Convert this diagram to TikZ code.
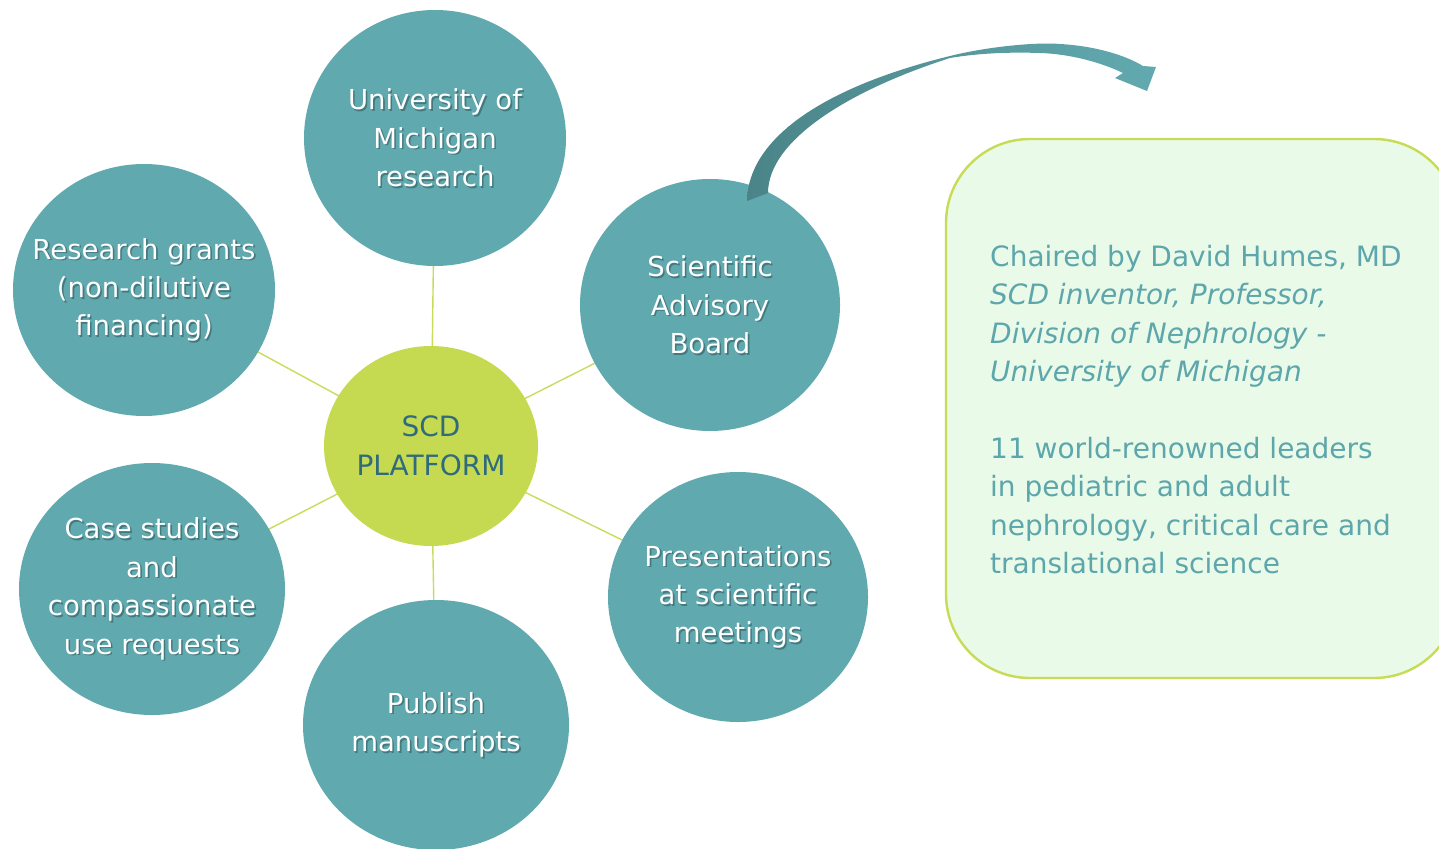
\documentclass[tikz,border=0pt]{standalone}
\usepackage{fontspec}
\setmainfont{DejaVu Sans}
\usetikzlibrary{shapes.geometric}

\definecolor{tealfill}{RGB}{95,169,175}
\definecolor{hubgreen}{RGB}{197,218,80}
\definecolor{hubtext}{RGB}{47,106,125}
\definecolor{spoke}{RGB}{200,220,90}
\definecolor{notefill}{RGB}{234,250,232}
\definecolor{noteline}{RGB}{198,219,86}
\definecolor{notetext}{RGB}{92,166,172}
\definecolor{arrowdark}{RGB}{74,132,136}
\definecolor{arrowlight}{RGB}{98,170,176}

\tikzset{
  bubble/.style={ellipse, fill=tealfill, draw=none, inner sep=0pt},
  bubbletxt/.style={text=white, align=center, font=\fontsize{27.5}{38.4}\selectfont},
  bubbleshadow/.style={text=black, opacity=0.28, align=center, font=\fontsize{27.5}{38.4}\selectfont},
  hub/.style={ellipse, fill=hubgreen, draw=none, inner sep=0pt, text=hubtext,
    align=center, font=\fontsize{28}{38.4}\selectfont},
  spokeline/.style={draw=spoke, line width=1.4pt},
  note/.style={fill=notefill, draw=noteline, line width=2.4pt, rounded corners=84pt}
}

% a teal bubble with shadowed white label
\newcommand\bubblenode[6]{%
  \node[bubble, minimum width=#3, minimum height=#4] (#1) at #2 {};
  \node[bubbleshadow] at ([shift={(1.6,1.6)}]#1.center) {#5};
  \node[bubbletxt] (#6) at (#1.center) {#5};
}

\begin{document}
\begin{tikzpicture}[x=1pt, y=-1pt]
  \useasboundingbox (0,0) rectangle (1439,848);
  \clip (0,0) rectangle (1439,848);

  % hub position, used by the spokes
  \coordinate (hubc) at (431,446);

  % spokes (drawn first, hidden under the bubbles)
  \coordinate (cu) at (435,138);
  \coordinate (cg) at (144,290);
  \coordinate (cs) at (710,305);
  \coordinate (cc) at (152,589);
  \coordinate (cp) at (436,725);
  \coordinate (cm) at (738,597);
  \foreach \c in {cu,cg,cs,cc,cp,cm}
    \draw[spokeline] (hubc) -- (\c);

  % outer bubbles
  \bubblenode{univ}{(cu)}{262pt}{256pt}{University of\\Michigan\\research}{univt}
  \bubblenode{grants}{(cg)}{262pt}{252pt}{Research grants\\(non-dilutive\\financing)}{grantst}
  \bubblenode{sab}{(cs)}{260pt}{252pt}{Scientific\\Advisory\\Board}{sabt}
  \bubblenode{cases}{(cc)}{266pt}{252pt}{Case studies\\and\\compassionate\\use requests}{casest}
  \bubblenode{pub}{(cp)}{266pt}{250pt}{Publish\\manuscripts}{pubt}
  \bubblenode{pres}{(cm)}{260pt}{250pt}{Presentations\\at scientific\\meetings}{prest}

  % hub
  \node[hub, minimum width=214pt, minimum height=200pt] (hub) at (hubc) {SCD\\PLATFORM};

  % note panel
  \draw[note] (946,139) rectangle (1458,678);
  \node[anchor=north west, align=left, text=notetext, inner sep=0pt,
        font=\fontsize{28}{38.4}\selectfont] (notetxt) at (990,245)
  {Chaired by David Humes, MD\\
   \textit{SCD inventor, Professor,}\\
   \textit{Division of Nephrology -}\\
   \textit{University of Michigan}\\[38.4pt]
   11 world-renowned leaders\\
   in pediatric and adult\\
   nephrology, critical care and\\
   translational science};

  % curved block arrow leaving the advisory board
  \coordinate (arrstart) at (747,201);
  \coordinate (arrtip) at (1147,91);
  \path[left color=arrowdark, right color=arrowlight]
    (arrstart) .. controls (748,140) and (820,88) .. (950,56)
    .. controls (990,46) and (1040,42) .. (1060,44)
    .. controls (1095,46) and (1125,55) .. (1143,66)
    -- (1156,67) -- (arrtip) -- (1115,78) -- (1123,73)
    .. controls (1100,62) and (1070,54) .. (1040,53)
    .. controls (1010,52) and (980,53) .. (950,58)
    .. controls (850,90) and (768,140) .. (768,193) -- cycle;
\end{tikzpicture}
\end{document}
